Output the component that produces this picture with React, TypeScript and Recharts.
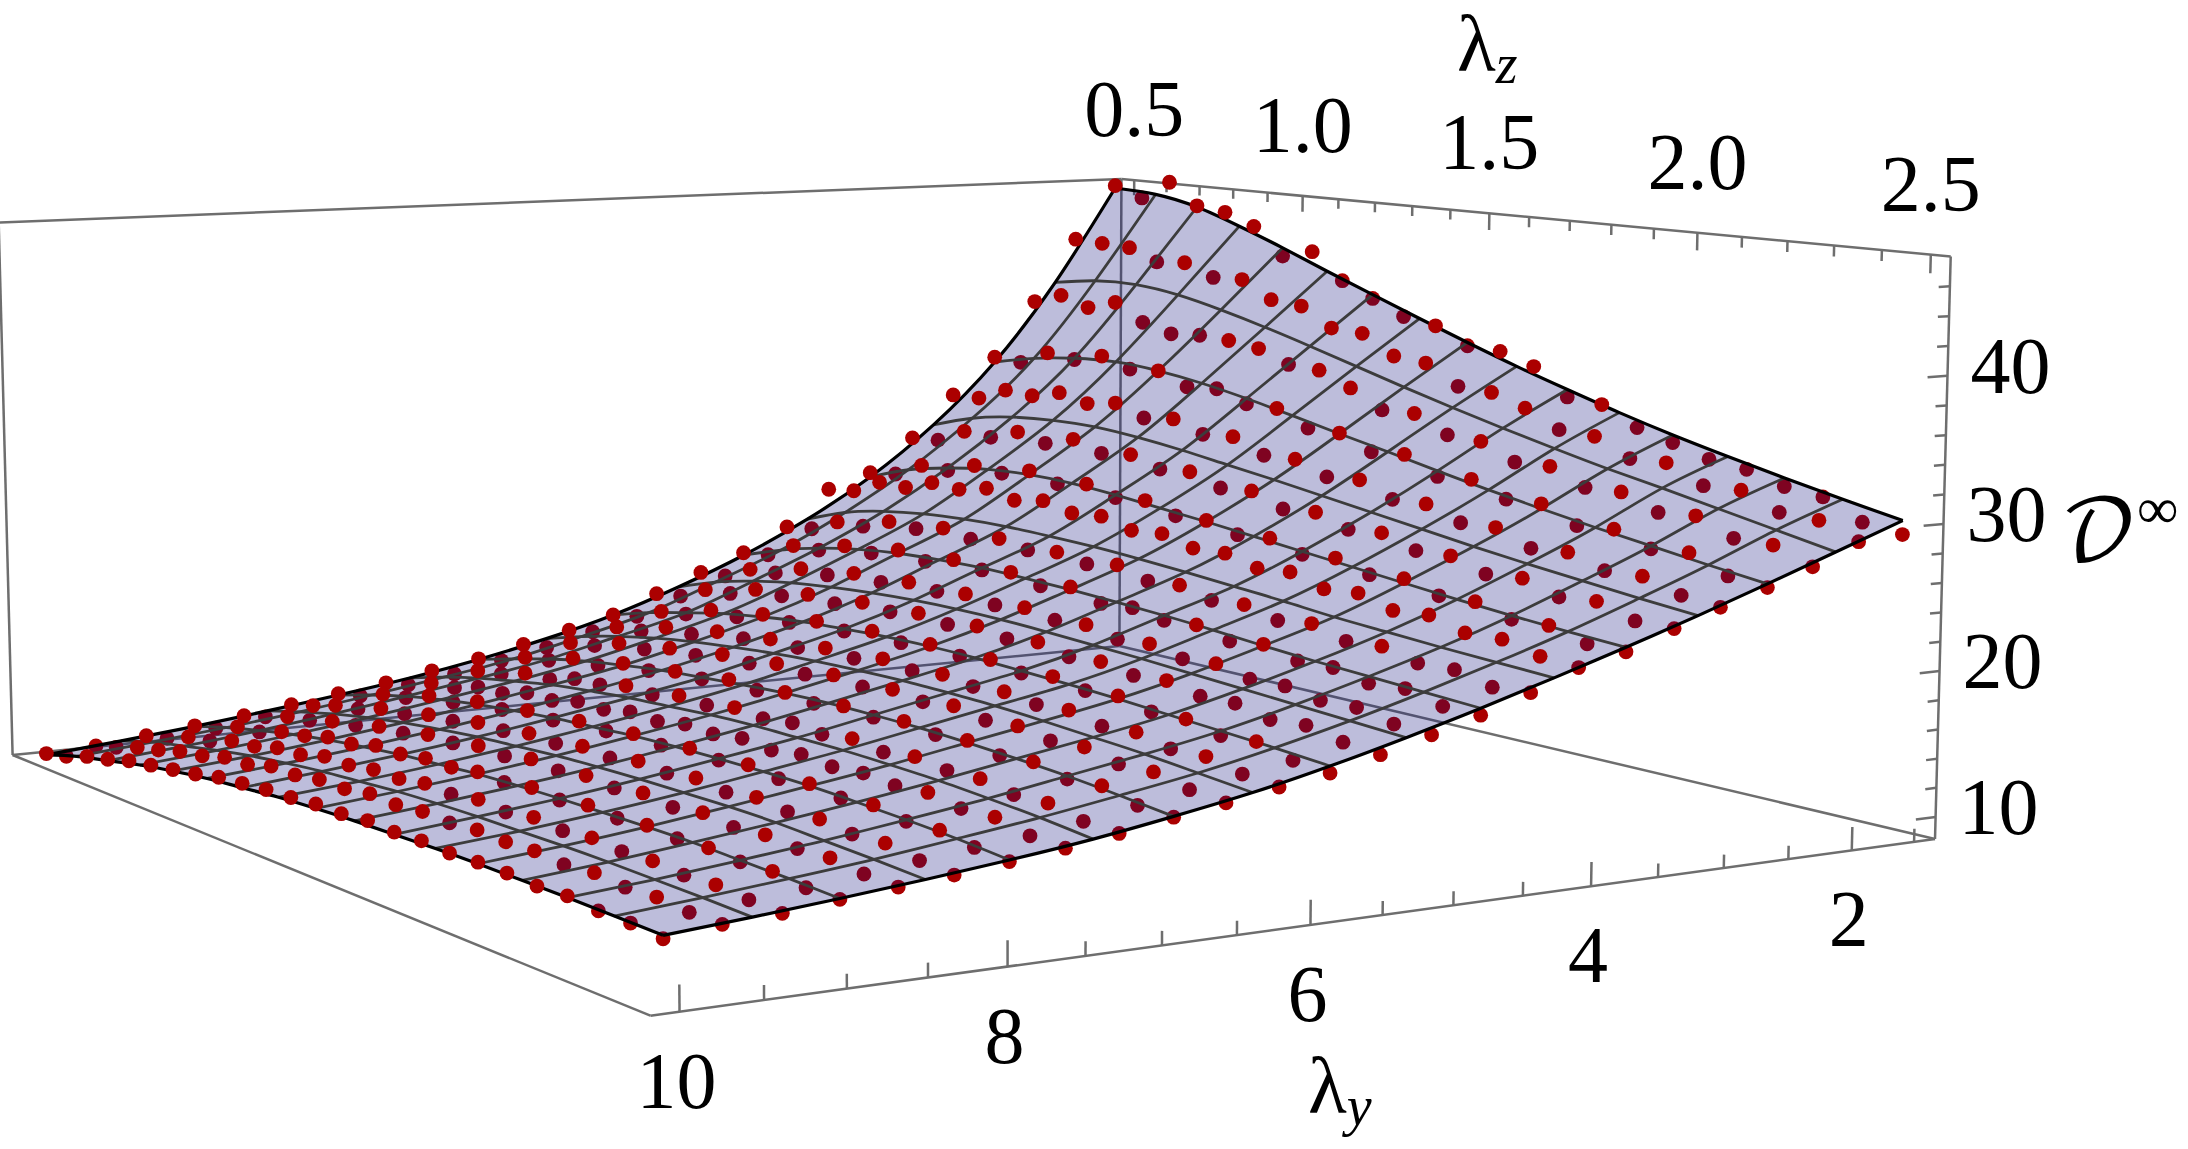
import React from 'react';
import { ScatterChart, Scatter, XAxis, YAxis } from 'recharts';

const WIDTH = 2188;
const HEIGHT = 1149;

// axis ranges of the plot box
const lambdaZRange = [0.46, 2.54];
const lambdaYRange = [1.33, 10.17];
const dRange = [8.48, 47.99];

// ticks
const lambdaZMajor = [0.5, 1.0, 1.5, 2.0, 2.5];
const lambdaZMinor = [0.6, 0.7, 0.8, 0.9, 1.1, 1.2, 1.3, 1.4, 1.6, 1.7, 1.8, 1.9, 2.1, 2.2, 2.3, 2.4];
const lambdaYMajor = [2, 4, 6, 8, 10];
const lambdaYMinor = [1.5, 2.5, 3, 3.5, 4.5, 5, 5.5, 6.5, 7, 7.5, 8.5, 9, 9.5];
const dMajor = [10, 20, 30, 40];
const dMinor = [12, 14, 16, 18, 22, 24, 26, 28, 32, 34, 36, 38, 42, 44, 46];

// mesh lines of the fitted surface
const meshLambdaY = [1.5, 2.03, 2.56, 3.09, 3.63, 4.16, 4.69, 5.22, 5.75, 6.28, 6.81, 7.34, 7.88, 8.41, 8.94, 9.47, 10];
const meshLambdaZ = [0.5, 0.625, 0.75, 0.875, 1, 1.125, 1.25, 1.375, 1.5, 1.625, 1.75, 1.875, 2, 2.125, 2.25, 2.375, 2.5];
const meshD = [
  [47.4, 47.2, 46.5, 45.3, 43.95, 42.5, 41.1, 39.7, 38.35, 37.05, 35.85, 34.7, 33.65, 32.7, 31.8, 30.95, 30.15],
  [39.8, 40.35, 40.45, 40.05, 39.3, 38.4, 37.4, 36.35, 35.3, 34.3, 33.35, 32.45, 31.6, 30.85, 30.05, 29.25, 28.45],
  [33.5, 34.3, 34.8, 35.0, 34.8, 34.35, 33.7, 32.95, 32.15, 31.4, 30.6, 29.85, 29.15, 28.5, 27.9, 27.3, 26.75],
  [28.65, 29.75, 30.4, 30.7, 30.75, 30.5, 30.1, 29.6, 29.1, 28.55, 28.0, 27.45, 26.9, 26.4, 25.95, 25.5, 25.1],
  [24.75, 25.95, 26.7, 27.2, 27.4, 27.35, 27.1, 26.75, 26.4, 26.0, 25.6, 25.2, 24.8, 24.4, 24.05, 23.75, 23.5],
  [21.7, 22.9, 23.65, 24.1, 24.35, 24.45, 24.4, 24.3, 24.1, 23.85, 23.55, 23.25, 22.9, 22.65, 22.4, 22.2, 22.0],
  [19.2, 20.3, 21.15, 21.75, 22.15, 22.35, 22.45, 22.4, 22.3, 22.15, 21.95, 21.7, 21.4, 21.15, 20.95, 20.75, 20.55],
  [17.1, 18.2, 19.0, 19.6, 20.0, 20.3, 20.5, 20.6, 20.6, 20.5, 20.35, 20.2, 20.0, 19.8, 19.6, 19.4, 19.2],
  [15.3, 16.25, 17.0, 17.7, 18.2, 18.6, 18.85, 19.05, 19.15, 19.15, 19.05, 18.95, 18.8, 18.6, 18.4, 18.2, 17.95],
  [13.9, 14.85, 15.65, 16.3, 16.8, 17.2, 17.55, 17.8, 17.95, 18.05, 18.05, 18.0, 17.85, 17.65, 17.45, 17.15, 16.85],
  [12.75, 13.6, 14.4, 15.05, 15.55, 16.0, 16.3, 16.6, 16.85, 17.0, 17.05, 17.05, 16.95, 16.8, 16.6, 16.3, 15.95],
  [11.8, 12.7, 13.45, 14.05, 14.6, 15.0, 15.35, 15.6, 15.85, 16.0, 16.05, 16.1, 16.05, 15.95, 15.75, 15.5, 15.15],
  [11.0, 11.85, 12.6, 13.2, 13.7, 14.1, 14.45, 14.7, 14.95, 15.1, 15.2, 15.25, 15.25, 15.15, 15.0, 14.8, 14.5],
  [10.3, 11.1, 11.8, 12.4, 12.9, 13.3, 13.65, 13.9, 14.15, 14.3, 14.4, 14.45, 14.5, 14.45, 14.3, 14.15, 13.95],
  [9.65, 10.45, 11.1, 11.7, 12.2, 12.6, 12.95, 13.2, 13.45, 13.6, 13.7, 13.75, 13.8, 13.8, 13.7, 13.6, 13.45],
  [9.1, 9.9, 10.5, 11.1, 11.6, 12.0, 12.35, 12.6, 12.85, 13.0, 13.1, 13.15, 13.2, 13.2, 13.15, 13.1, 13.0],
  [8.6, 9.4, 10.0, 10.6, 11.1, 11.5, 11.8, 12.1, 12.3, 12.45, 12.55, 12.65, 12.7, 12.7, 12.7, 12.65, 12.6],
];

// red data points
const dotLambdaY = [1.5, 1.85, 2.21, 2.56, 2.92, 3.27, 3.63, 3.98, 4.33, 4.69, 5.04, 5.4, 5.75, 6.1, 6.46, 6.81, 7.17, 7.52, 7.88, 8.23, 8.58, 8.94, 9.29, 9.65, 10];
const dotLambdaZ = [0.5, 0.583, 0.667, 0.75, 0.833, 0.917, 1, 1.083, 1.167, 1.25, 1.333, 1.417, 1.5, 1.583, 1.667, 1.75, 1.833, 1.917, 2, 2.083, 2.167, 2.25, 2.333, 2.417, 2.5];
const dotD = [
  [47.6, 46.8, 48.3, 46.6, 46.3, 45.4, 43.3, 43.9, 41.9, 40.8, 39.7, 39.3, 38.1, 38.0, 37.2, 35.3, 35.1, 33.8, 33.1, 32.3, 32.0, 31.2, 30.9, 29.6, 29.2],
  [43.3, 43.2, 43.1, 42.2, 42.4, 41.5, 41.6, 40.3, 40.1, 38.7, 38.6, 37.2, 37.0, 35.6, 35.5, 34.7, 33.5, 33.4, 32.2, 32.3, 31.1, 31.2, 30.1, 30.0, 29.0],
  [38.3, 39.1, 38.4, 39.1, 37.8, 37.2, 37.4, 37.3, 37.0, 36.1, 36.0, 35.0, 33.7, 33.8, 32.6, 32.5, 31.4, 31.5, 30.4, 30.5, 29.5, 29.7, 28.6, 28.6, 27.6],
  [33.9, 33.8, 34.9, 34.7, 35.3, 34.6, 34.8, 33.9, 34.1, 33.3, 33.3, 32.2, 32.2, 31.2, 31.4, 30.2, 30.4, 29.4, 29.5, 28.4, 28.6, 27.7, 27.9, 26.8, 26.5],
  [31.0, 31.1, 32.1, 32.0, 32.6, 32.1, 32.5, 31.7, 32.0, 31.2, 31.4, 30.4, 30.5, 29.6, 29.8, 28.8, 28.9, 28.0, 28.1, 27.1, 27.3, 26.5, 26.6, 25.8, 25.5],
  [27.7, 27.9, 29.0, 28.9, 29.7, 29.2, 29.9, 29.2, 29.5, 28.8, 29.0, 28.2, 28.4, 27.5, 27.7, 26.9, 27.1, 26.3, 26.4, 25.6, 25.8, 25.0, 25.2, 24.4, 24.4],
  [25.1, 25.4, 26.5, 26.5, 27.3, 27.1, 27.7, 27.1, 27.5, 26.9, 27.1, 26.4, 26.5, 25.9, 26.1, 25.4, 25.6, 24.9, 25.1, 24.4, 24.5, 23.8, 23.9, 23.2, 23.2],
  [24.0, 24.3, 25.4, 25.4, 26.2, 26.1, 26.6, 26.1, 26.5, 26.0, 26.2, 25.6, 25.8, 25.2, 25.3, 24.7, 24.9, 24.2, 24.4, 23.7, 23.9, 23.2, 23.3, 22.7, 22.5],
  [21.2, 21.5, 22.5, 22.6, 23.4, 23.3, 23.8, 23.4, 23.9, 23.5, 23.8, 23.4, 23.8, 23.1, 23.3, 22.7, 22.9, 22.3, 22.6, 21.9, 22.1, 21.5, 21.6, 21.0, 21.2],
  [19.4, 19.7, 20.9, 21.0, 21.8, 21.7, 22.4, 22.0, 22.6, 22.3, 22.6, 22.1, 22.5, 21.8, 22.0, 21.6, 21.8, 21.2, 21.5, 20.9, 21.0, 20.5, 20.7, 20.1, 20.1],
  [18.1, 18.3, 19.3, 19.5, 20.3, 20.3, 20.9, 20.7, 21.2, 21.0, 21.3, 21.0, 21.3, 20.9, 21.1, 20.6, 20.8, 20.3, 20.5, 20.0, 20.1, 19.7, 19.8, 19.3, 19.2],
  [16.7, 17.0, 18.0, 18.2, 19.0, 19.0, 19.6, 19.4, 20.0, 19.8, 20.2, 19.9, 20.3, 19.9, 20.2, 19.7, 19.9, 19.5, 19.7, 19.2, 19.3, 18.8, 19.0, 18.5, 18.3],
  [15.3, 15.7, 16.6, 16.9, 17.7, 17.7, 18.4, 18.3, 18.9, 18.7, 19.2, 18.9, 19.3, 19.0, 19.3, 18.9, 19.2, 18.8, 19.0, 18.5, 18.6, 18.1, 18.3, 17.7, 17.5],
  [14.4, 14.8, 15.7, 15.9, 16.7, 16.7, 17.4, 17.4, 17.9, 17.8, 18.3, 18.1, 18.6, 18.3, 18.6, 18.3, 18.5, 18.2, 18.4, 17.9, 18.1, 17.6, 17.7, 17.2, 17.0],
  [13.6, 13.9, 14.8, 15.1, 15.8, 15.9, 16.5, 16.5, 17.1, 17.0, 17.5, 17.3, 17.8, 17.5, 17.9, 17.6, 17.9, 17.5, 17.7, 17.3, 17.5, 17.0, 17.1, 16.6, 16.4],
  [12.8, 13.2, 14.0, 14.3, 15.0, 15.0, 15.7, 15.7, 16.2, 16.2, 16.7, 16.5, 16.9, 16.7, 17.1, 16.9, 17.2, 16.9, 17.1, 16.7, 16.9, 16.4, 16.6, 16.0, 15.9],
  [12.2, 12.5, 13.3, 13.6, 14.2, 14.3, 14.9, 15.0, 15.5, 15.4, 15.9, 15.8, 16.2, 16.0, 16.3, 16.1, 16.4, 16.1, 16.4, 16.1, 16.2, 15.8, 15.9, 15.4, 15.3],
  [11.6, 12.0, 12.7, 12.9, 13.5, 13.6, 14.2, 14.2, 14.7, 14.7, 15.1, 15.0, 15.4, 15.3, 15.6, 15.4, 15.7, 15.5, 15.7, 15.5, 15.7, 15.3, 15.4, 14.9, 14.8],
  [11.1, 11.5, 12.2, 12.5, 13.2, 13.3, 13.9, 13.9, 14.4, 14.3, 14.8, 14.7, 15.1, 14.9, 15.3, 15.1, 15.4, 15.1, 15.4, 15.1, 15.3, 14.9, 15.0, 14.6, 14.4],
  [10.6, 11.1, 11.7, 12.0, 12.6, 12.8, 13.3, 13.4, 13.9, 13.9, 14.3, 14.2, 14.6, 14.4, 14.8, 14.6, 14.9, 14.6, 14.9, 14.6, 14.8, 14.5, 14.6, 14.2, 14.0],
  [10.1, 10.6, 11.2, 11.5, 12.0, 12.3, 12.8, 12.9, 13.4, 13.4, 13.8, 13.7, 14.1, 13.9, 14.2, 14.0, 14.3, 14.0, 14.3, 14.0, 14.2, 14.0, 14.1, 13.8, 13.7],
  [9.7, 10.1, 10.8, 11.0, 11.6, 11.9, 12.4, 12.5, 13.0, 13.0, 13.3, 13.3, 13.6, 13.5, 13.8, 13.6, 13.9, 13.7, 13.9, 13.7, 13.8, 13.6, 13.7, 13.4, 13.4],
  [9.3, 9.7, 10.4, 10.7, 11.3, 11.5, 12.0, 12.1, 12.6, 12.6, 12.9, 12.9, 13.2, 13.1, 13.4, 13.2, 13.5, 13.3, 13.5, 13.3, 13.4, 13.2, 13.3, 13.1, 13.0],
  [8.9, 9.4, 10.0, 10.4, 10.9, 11.2, 11.7, 11.8, 12.3, 12.3, 12.6, 12.6, 12.9, 12.8, 13.0, 12.9, 13.1, 13.0, 13.1, 12.9, 13.1, 12.9, 13.0, 12.8, 12.8],
  [8.7, 9.1, 9.7, 10.1, 10.6, 10.9, 11.2, 11.5, 11.9, 12.1, 12.3, 12.4, 12.6, 12.6, 12.8, 12.7, 12.8, 12.7, 12.8, 12.8, 12.7, 12.8, 12.6, 12.6, 12.4],
];

// camera: floor corners on screen and the vanishing point of the vertical axis
const floorBack = [1119.4, 646];
const floorRight = [1935, 839];
const floorFront = [650.4, 1015.7];
const floorLeft = [12.6, 755];
const vertical = [960, 37000];
const backTopY = 179;

const sx = floorBack[0] - floorRight[0] + floorFront[0] - floorLeft[0];
const sy = floorBack[1] - floorRight[1] + floorFront[1] - floorLeft[1];
const dx1 = floorRight[0] - floorFront[0];
const dx2 = floorLeft[0] - floorFront[0];
const dy1 = floorRight[1] - floorFront[1];
const dy2 = floorLeft[1] - floorFront[1];
const den = dx1 * dy2 - dx2 * dy1;
const g = (sx * dy2 - dx2 * sy) / den;
const h = (dx1 * sy - sx * dy1) / den;
const alpha = (backTopY - floorBack[1]) / (vertical[1] - backTopY);

function project(lz: number, ly: number, d: number) {
  const u = (lz - lambdaZRange[0]) / (lambdaZRange[1] - lambdaZRange[0]);
  const v = (ly - lambdaYRange[0]) / (lambdaYRange[1] - lambdaYRange[0]);
  const t = (d - dRange[0]) / (dRange[1] - dRange[0]);
  const w = 1 + g * u + h * v + alpha * t;
  const px = (floorRight[0] - floorBack[0] + g * floorRight[0]) * u + (floorLeft[0] - floorBack[0] + h * floorLeft[0]) * v + floorBack[0] + alpha * vertical[0] * t;
  const py = (floorRight[1] - floorBack[1] + g * floorRight[1]) * u + (floorLeft[1] - floorBack[1] + h * floorLeft[1]) * v + floorBack[1] + alpha * vertical[1] * t;
  return { x: px / w, y: py / w };
}

const [zLo, zHi] = lambdaZRange;
const [yLo, yHi] = lambdaYRange;
const [dLo, dHi] = dRange;

const boxEdgesBack = [
  [[zLo, yHi, dLo], [zLo, yHi, dHi]],
  [[zLo, yHi, dHi], [zLo, yLo, dHi]],
  [[zLo, yLo, dHi], [zHi, yLo, dHi]],
  [[zHi, yLo, dHi], [zHi, yLo, dLo]],
  [[zHi, yLo, dLo], [zHi, yHi, dLo]],
  [[zHi, yHi, dLo], [zLo, yHi, dLo]],
  [[zLo, yHi, dLo], [zLo, yLo, dLo]],
  [[zLo, yLo, dLo], [zHi, yLo, dLo]],
  [[zLo, yLo, dLo], [zLo, yLo, dHi]],
];

const segments: number[][][] = [
  ...boxEdgesBack,
  ...lambdaZMajor.map((z) => [[z, yLo, dHi], [z, yLo, dHi - 1.25]]),
  ...lambdaZMinor.map((z) => [[z, yLo, dHi], [z, yLo, dHi - 0.75]]),
  ...lambdaYMajor.map((y) => [[zHi, y, dLo], [zHi, y, dLo + 1.6]]),
  ...lambdaYMinor.map((y) => [[zHi, y, dLo], [zHi, y, dLo + 0.9]]),
  ...dMajor.map((d) => [[zHi, yLo, d], [zHi, yLo + 0.16, d]]),
  ...dMinor.map((d) => [[zHi, yLo, d], [zHi, yLo + 0.09, d]]),
];

function surfaceAt(ly: number, lz: number) {
  const row = Math.min(meshLambdaY.findIndex((y) => y >= ly), meshLambdaY.length - 1);
  const col = Math.min(meshLambdaZ.findIndex((z) => z >= lz), meshLambdaZ.length - 1);
  const r0 = Math.max(row - 1, 0);
  const c0 = Math.max(col - 1, 0);
  const fy = row === r0 ? 0 : (ly - meshLambdaY[r0]) / (meshLambdaY[row] - meshLambdaY[r0]);
  const fz = col === c0 ? 0 : (lz - meshLambdaZ[c0]) / (meshLambdaZ[col] - meshLambdaZ[c0]);
  const top = meshD[r0][c0] + (meshD[r0][col] - meshD[r0][c0]) * fz;
  const bot = meshD[row][c0] + (meshD[row][col] - meshD[row][c0]) * fz;
  return top + (bot - top) * fy;
}

const dotsBelow: { x: number; y: number }[] = [];
const dotsAbove: { x: number; y: number }[] = [];
dotLambdaY.forEach((ly, i) => {
  dotLambdaZ.forEach((lz, j) => {
    const d = dotD[i][j];
    (d < surfaceAt(ly, lz) ? dotsBelow : dotsAbove).push(project(lz, ly, d));
  });
});

const lastRow = meshLambdaY.length - 1;
const lastCol = meshLambdaZ.length - 1;
const rowLine = (r: number) => meshLambdaZ.map((z, c) => project(z, meshLambdaY[r], meshD[r][c]));
const colLine = (c: number) => meshLambdaY.map((y, r) => project(meshLambdaZ[c], y, meshD[r][c]));
const outline = [
  ...rowLine(0),
  ...colLine(lastCol),
  ...rowLine(lastRow).reverse(),
  ...colLine(0).reverse(),
];

const noMark = () => <g />;
const font = '"Liberation Serif", serif';

const dotShape = (fill: string) => (p: any) => <circle cx={p.cx} cy={p.cy} r={7.4} fill={fill} />;

const SurfaceFill = (p: any) => {
  const d = p.points.map((q: any, i: number) => `${i ? 'L' : 'M'}${q.x},${q.y}`).join('') + 'Z';
  return <path d={d} fill="rgb(10,10,122)" fillOpacity={0.27} stroke="none" />;
};

const tickText = (dx: number, dy: number) => (p: any) => (
  <text x={p.cx + dx} y={p.cy + dy} textAnchor="middle" fontFamily={font} fontSize={80} fill="#000">
    {p.payload.text}
  </text>
);

const zLabels = lambdaZMajor.map((z, i) => ({ ...project(z, yLo, dHi), text: ['0.5', '1.0', '1.5', '2.0', '2.5'][i] }));
const yLabels = lambdaYMajor.map((y) => ({ ...project(zHi, y, dLo), text: String(y) }));
const dLabels = dMajor.map((d) => ({ ...project(zHi, yLo, d), text: String(d) }));

const axisTitle = (sub: string) => (p: any) => (
  <text x={p.cx} y={p.cy} fontFamily={font} fontSize={80} fill="#000">
    λ<tspan fontSize={56} fontStyle="italic" dy={12}>{sub}</tspan>
  </text>
);
const titleD = (p: any) => (
  <text x={p.cx} y={p.cy} fontFamily={'"DejaVu Math TeX Gyre", "DejaVu Serif", "DejaVu Sans", serif'} fontSize={84} fill="#000">
    𝒟<tspan x={p.cx + 77} dy={-32} fontFamily={font} fontSize={58}>∞</tspan>
  </text>
);

export default function App() {
  return (
    <div style={{ position: 'absolute', left: 0, top: 0, width: WIDTH, height: HEIGHT, background: '#fff' }}>
      <ScatterChart width={WIDTH} height={HEIGHT} margin={{ top: 0, right: 0, bottom: 0, left: 0 }}>
        <XAxis type="number" dataKey="x" domain={[0, WIDTH]} hide allowDataOverflow />
        <YAxis type="number" dataKey="y" domain={[0, HEIGHT]} reversed hide allowDataOverflow />

        {segments.map((s, i) => (
          <Scatter
            key={`seg${i}`}
            data={s.map((q) => project(q[0], q[1], q[2]))}
            shape={noMark}
            line={{ stroke: '#6e6e6e', strokeWidth: 2.5 }}
            isAnimationActive={false}
          />
        ))}

        <Scatter data={dotsBelow} shape={dotShape('#ab0000')} isAnimationActive={false} />

        <Scatter data={outline} shape={noMark} line={SurfaceFill} isAnimationActive={false} />

        {meshLambdaY.slice(1, -1).map((_, i) => (
          <Scatter
            key={`row${i}`}
            data={rowLine(i + 1)}
            shape={noMark}
            line={{ stroke: '#3c3c3c', strokeWidth: 2.8 }}
            lineJointType="natural"
            isAnimationActive={false}
          />
        ))}
        {meshLambdaZ.slice(1, -1).map((_, i) => (
          <Scatter
            key={`col${i}`}
            data={colLine(i + 1)}
            shape={noMark}
            line={{ stroke: '#3c3c3c', strokeWidth: 2.8 }}
            lineJointType="natural"
            isAnimationActive={false}
          />
        ))}
        {[rowLine(0), rowLine(lastRow), colLine(0), colLine(lastCol)].map((l, i) => (
          <Scatter
            key={`edge${i}`}
            data={l}
            shape={noMark}
            line={{ stroke: '#000', strokeWidth: 3.2 }}
            lineJointType="natural"
            isAnimationActive={false}
          />
        ))}

        <Scatter data={dotsAbove} shape={dotShape('#ab0000')} isAnimationActive={false} />

        <Scatter data={zLabels} shape={tickText(0, -44)} isAnimationActive={false} />
        <Scatter data={yLabels} shape={tickText(-3, 96)} isAnimationActive={false} />
        <Scatter data={dLabels} shape={tickText(63, 17)} isAnimationActive={false} />

        <Scatter data={[{ x: 1457, y: 71 }]} shape={axisTitle('z')} isAnimationActive={false} />
        <Scatter data={[{ x: 1308, y: 1113 }]} shape={axisTitle('y')} isAnimationActive={false} />
        <Scatter data={[{ x: 2060, y: 560 }]} shape={titleD} isAnimationActive={false} />
      </ScatterChart>
    </div>
  );
}
